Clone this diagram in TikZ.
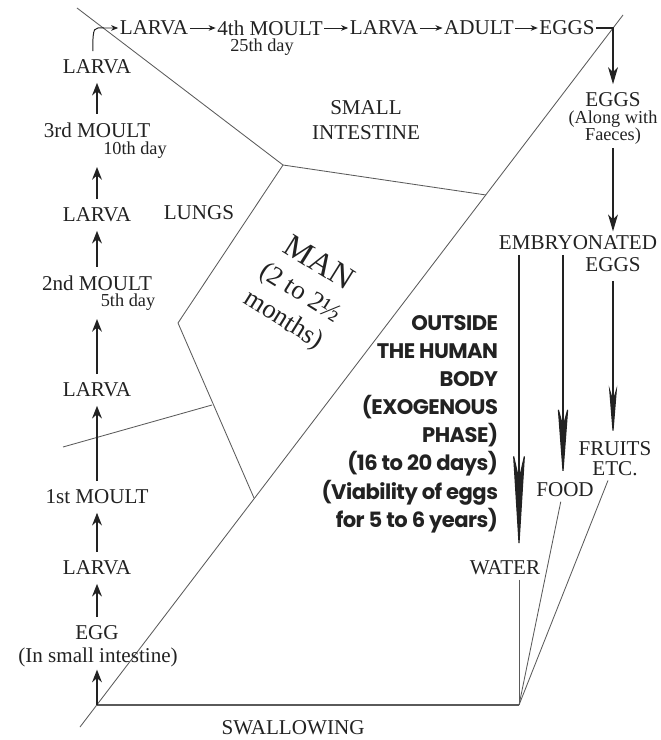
\documentclass[tikz,border=0pt]{standalone}
\usepackage{fontspec}
\setmainfont{Liberation Serif}
\newfontfamily\outsans{Poppins}[LetterSpace=-2.5]
\usetikzlibrary{arrows.meta, positioning, calc}
\definecolor{inkgray}{HTML}{222222}
\definecolor{linegray}{HTML}{5A5A5A}

\begin{document}
\begin{tikzpicture}[
  x=0.025cm, y=-0.025cm,
  lbl/.style={font=\fontsize{15}{17}\selectfont, text=inkgray, inner xsep=1pt, inner ysep=3pt},
  col/.style={lbl, inner ysep=6pt},
  dayl/.style={font=\fontsize{13}{13}\selectfont, text=inkgray, inner xsep=1pt, inner ysep=6pt},
  uparr/.style={-{Stealth[length=9pt, width=7pt, inset=3pt]}, line width=1.1pt, draw=inkgray},
  toparr/.style={-{Stealth[length=5pt, width=4pt, inset=1.5pt]}, line width=0.7pt, draw=inkgray},
  dnarr/.style={-{Stealth[length=12pt, width=7pt, inset=3.5pt]}, line width=0.8pt, draw=inkgray},
  longarr/.style n args={3}{-{Stealth[length=#1, width=#2, inset=#3]}, line width=0.8pt, draw=inkgray},
  region/.style={draw=linegray, line width=0.6pt}
]
  \useasboundingbox (0,0) rectangle (661,740);

  % region boundaries
  \coordinate (tl) at (77,8);
  \coordinate (mj) at (283,165);
  \coordinate (ir) at (486,195);
  \coordinate (ml) at (178,323);
  \coordinate (mb) at (254,498);
  \coordinate (lg) at (63,447);
  \coordinate (lr) at (212,405);
  \coordinate (dt) at (623,15);
  \coordinate (db) at (80,727);
  \coordinate (bl) at (97,705);
  \coordinate (bc) at (519,705);

  \draw[region] (tl) -- (mj) -- (ir);
  \draw[region] (mj) -- (ml) -- (mb);
  \draw[region] (lg) -- (lr);
  \draw[region] (dt) -- (db);
  \draw[region, line width=0.9pt] (bl) -- (bc);

  % inside the body: left column
  \node[col] (egg) at (97,633) {EGG};
  \node[lbl, inner ysep=2pt] (insi) at (98,657) {(In small intestine)};
  \node[col] (larva1) at (97,568) {LARVA};
  \node[col] (moult1) at (97,497) {1st MOULT};
  \node[col] (larva2) at (97,390) {LARVA};
  \node[col] (moult2) at (97,283) {2nd MOULT};
  \node[dayl] (day5) at (128,302) {5th day};
  \node[col] (larva3) at (97,215) {LARVA};
  \node[col] (moult3) at (97,130) {3rd MOULT};
  \node[dayl] (day10) at (135,150) {10th day};
  \node[col] (larva4) at (97,67) {LARVA};

  \draw[uparr] (bl) -- (insi.south -| bl);
  \draw[uparr] (egg) -- (larva1);
  \draw[uparr] (larva1) -- (moult1);
  \draw[uparr] (moult1) -- (larva2);
  \draw[uparr] (larva2) -- (day5.south -| larva2);
  \draw[uparr] (moult2) -- (larva3);
  \draw[uparr] (larva3) -- (day10.south -| larva3);
  \draw[uparr] (moult3) -- (larva4);

  % top row
  \node[lbl] (t1) at (154,28) {LARVA};
  \node[lbl] (t2) at (270,28) {4th MOULT};
  \node[dayl, inner ysep=1pt] (day25) at (262,47) {25th day};
  \node[lbl] (t3) at (384,28) {LARVA};
  \node[lbl] (t4) at (479,28) {ADULT};
  \node[lbl] (t5) at (567,28) {EGGS};
  \coordinate (bend) at (104,28);

  \draw[toparr] ([xshift=-3pt]larva4.north) .. controls +(0,-26) and +(-10,0) .. (bend) -- (t1.west);
  \draw[toparr] (t1) -- (t2);
  \draw[toparr] (t2) -- (t3);
  \draw[toparr] (t3) -- (t4);
  \draw[toparr] (t4) -- (t5);

  % outside the body: right column
  \node[lbl] (eggs2) at (613,100) {EGGS};
  \node[dayl, align=center, font=\fontsize{13}{12}\selectfont, inner ysep=2pt] (along) at (613,128) {(Along with\\Faeces)};
  \node[lbl] (emb) at (578,243) {EMBRYONATED};
  \node[lbl] (eggs3) at (613,265) {EGGS};
  \node[lbl, align=center, font=\fontsize{15}{14}\selectfont] (fruits) at (615,459) {FRUITS\\ETC.};
  \node[lbl] (food) at (565,490) {FOOD};
  \node[lbl] (water) at (505,568) {WATER};
  \coordinate (wtop) at (519,255);
  \coordinate (ftop) at (563,255);

  \draw[dnarr, shorten >=3pt] (t5.east) -| (eggs2.north);
  \draw[dnarr] (along.south) -- (emb.north -| along);
  \draw[longarr={73pt}{9pt}{20pt}, shorten >=3pt] (wtop) -- (wtop |- water.north);
  \draw[longarr={53pt}{8pt}{15pt}] (ftop) -- (ftop |- food.north);
  \draw[longarr={37pt}{6pt}{10pt}, shorten <=3pt] (eggs3.south) -- (fruits.north -| eggs3);

  \draw[region] (water.south -| wtop) -- (bc);
  \draw[region] ([xshift=-3pt]food.south) -- (bc);
  \draw[region] ([xshift=-5pt]fruits.south) -- (bc);

  % region names
  \node[lbl, align=center, font=\fontsize{15}{17.5}\selectfont] (smint) at (366,120) {SMALL\\INTESTINE};
  \node[lbl] (lungs) at (199,213) {LUNGS};
  \node[lbl, align=center, rotate=-32, font=\fontsize{19}{22.5}\selectfont] (man) at (301,292)
    {{\fontsize{23}{24}\selectfont MAN}\\[1pt](2 to 2½\\months)};
  \node[align=right, anchor=east, text=inkgray, font=\outsans\bfseries\fontsize{15}{20}\selectfont] (outside) at (503,424)
    {OUTSIDE\\THE HUMAN\\BODY\\(EXOGENOUS\\PHASE)\\(16 to 20 days)\\(Viability of eggs\\for 5 to 6 years)};
  \node[lbl] (swallow) at (293,728) {SWALLOWING};
\end{tikzpicture}
\end{document}
